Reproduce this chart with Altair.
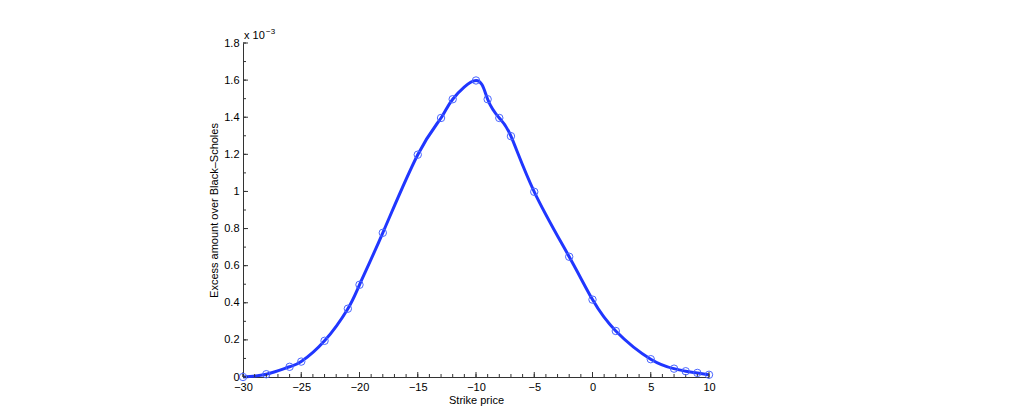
import altair as alt
import pandas as pd

strike = [-30, -28, -26, -25, -23, -21, -20, -18, -15, -13, -12, -10, -9, -8, -7,
          -5, -2, 0, 2, 5, 7, 8, 9, 10]
excess = [0.0, 0.015, 0.055, 0.083, 0.195, 0.368, 0.497, 0.777, 1.198, 1.396, 1.497,
          1.598, 1.497, 1.396, 1.298, 0.998, 0.648, 0.417, 0.248, 0.096, 0.045, 0.031,
          0.022, 0.012]

x_major = [-30, -25, -20, -15, -10, -5, 0, 5, 10]
x_minor = list(range(-30, 11))
y_major = [0, 0.2, 0.4, 0.6, 0.8, 1.0, 1.2, 1.4, 1.6, 1.8]
y_minor = [round(0.1 * i, 1) for i in range(0, 19)]

W, H = 466, 334
FONT = "Liberation Sans"

df = pd.DataFrame({"strike": strike, "excess": excess})
xs = alt.Scale(domain=[-30, 10], nice=False, zero=False)
ys = alt.Scale(domain=[0, 1.8], nice=False, zero=False)

xaxis = alt.Axis(values=x_major, ticks=False, grid=False, title="Strike price",
                 format="~g", labelOverlap=False, labelFlush=False,
                 labelFont=FONT, labelFontSize=11, labelColor="#000", labelPadding=4,
                 titleFont=FONT, titleFontSize=11, titleFontWeight="normal",
                 titleColor="#000", titlePadding=2, domainColor="#333", titleX=W / 2)
yaxis = alt.Axis(values=y_major, ticks=False, grid=False,
                 title="Excess amount over Black\u2013Scholes",
                 format="~g", labelOverlap=False, labelFlush=False,
                 labelFont=FONT, labelFontSize=11, labelColor="#000", labelPadding=4,
                 titleFont=FONT, titleFontSize=11, titleFontWeight="normal",
                 titleColor="#000", titlePadding=4, domainColor="#333")

base = alt.Chart(df)
line = base.mark_line(color="#2036ff", strokeWidth=3, interpolate="natural").encode(
    x=alt.X("strike:Q", scale=xs, axis=xaxis),
    y=alt.Y("excess:Q", scale=ys, axis=yaxis),
)
pts = base.mark_point(shape="circle", filled=False, color="#4a66ff", strokeWidth=1,
                      opacity=1, size=55).encode(
    x=alt.X("strike:Q", scale=xs, axis=xaxis),
    y=alt.Y("excess:Q", scale=ys, axis=yaxis),
)

def xt(vals, length):
    return alt.Chart(pd.DataFrame({"v": vals})).mark_rule(color="#333", strokeWidth=1).encode(
        x=alt.X("v:Q", scale=xs, axis=xaxis), y=alt.value(H), y2=alt.value(H - length))

def yt(vals, length):
    return alt.Chart(pd.DataFrame({"v": vals})).mark_rule(color="#333", strokeWidth=1).encode(
        y=alt.Y("v:Q", scale=ys, axis=yaxis), x=alt.value(0), x2=alt.value(length))

exp_txt = alt.Chart(pd.DataFrame({"t": ["x 10"]})).mark_text(
    align="left", baseline="alphabetic", font=FONT, fontSize=11, color="#000").encode(
    text="t:N", x=alt.value(1), y=alt.value(-4))
exp_sup = alt.Chart(pd.DataFrame({"t": ["\u22123"]})).mark_text(
    align="left", baseline="alphabetic", font=FONT, fontSize=8, color="#000").encode(
    text="t:N", x=alt.value(23), y=alt.value(-9))

chart = alt.layer(
    line, xt(x_minor, 3), xt(x_major, 5), yt(y_minor, 3), yt(y_major, 5),
    pts, exp_txt, exp_sup
).properties(
    width=W, height=H,
    background="white",
    autosize=alt.AutoSizeParams(type="none"),
    padding={"left": 235, "top": 35, "right": 20, "bottom": 30},
).configure_view(strokeWidth=0, stroke="transparent")

chart.save("out.html", embed_options={"renderer": "svg", "actions": False})
